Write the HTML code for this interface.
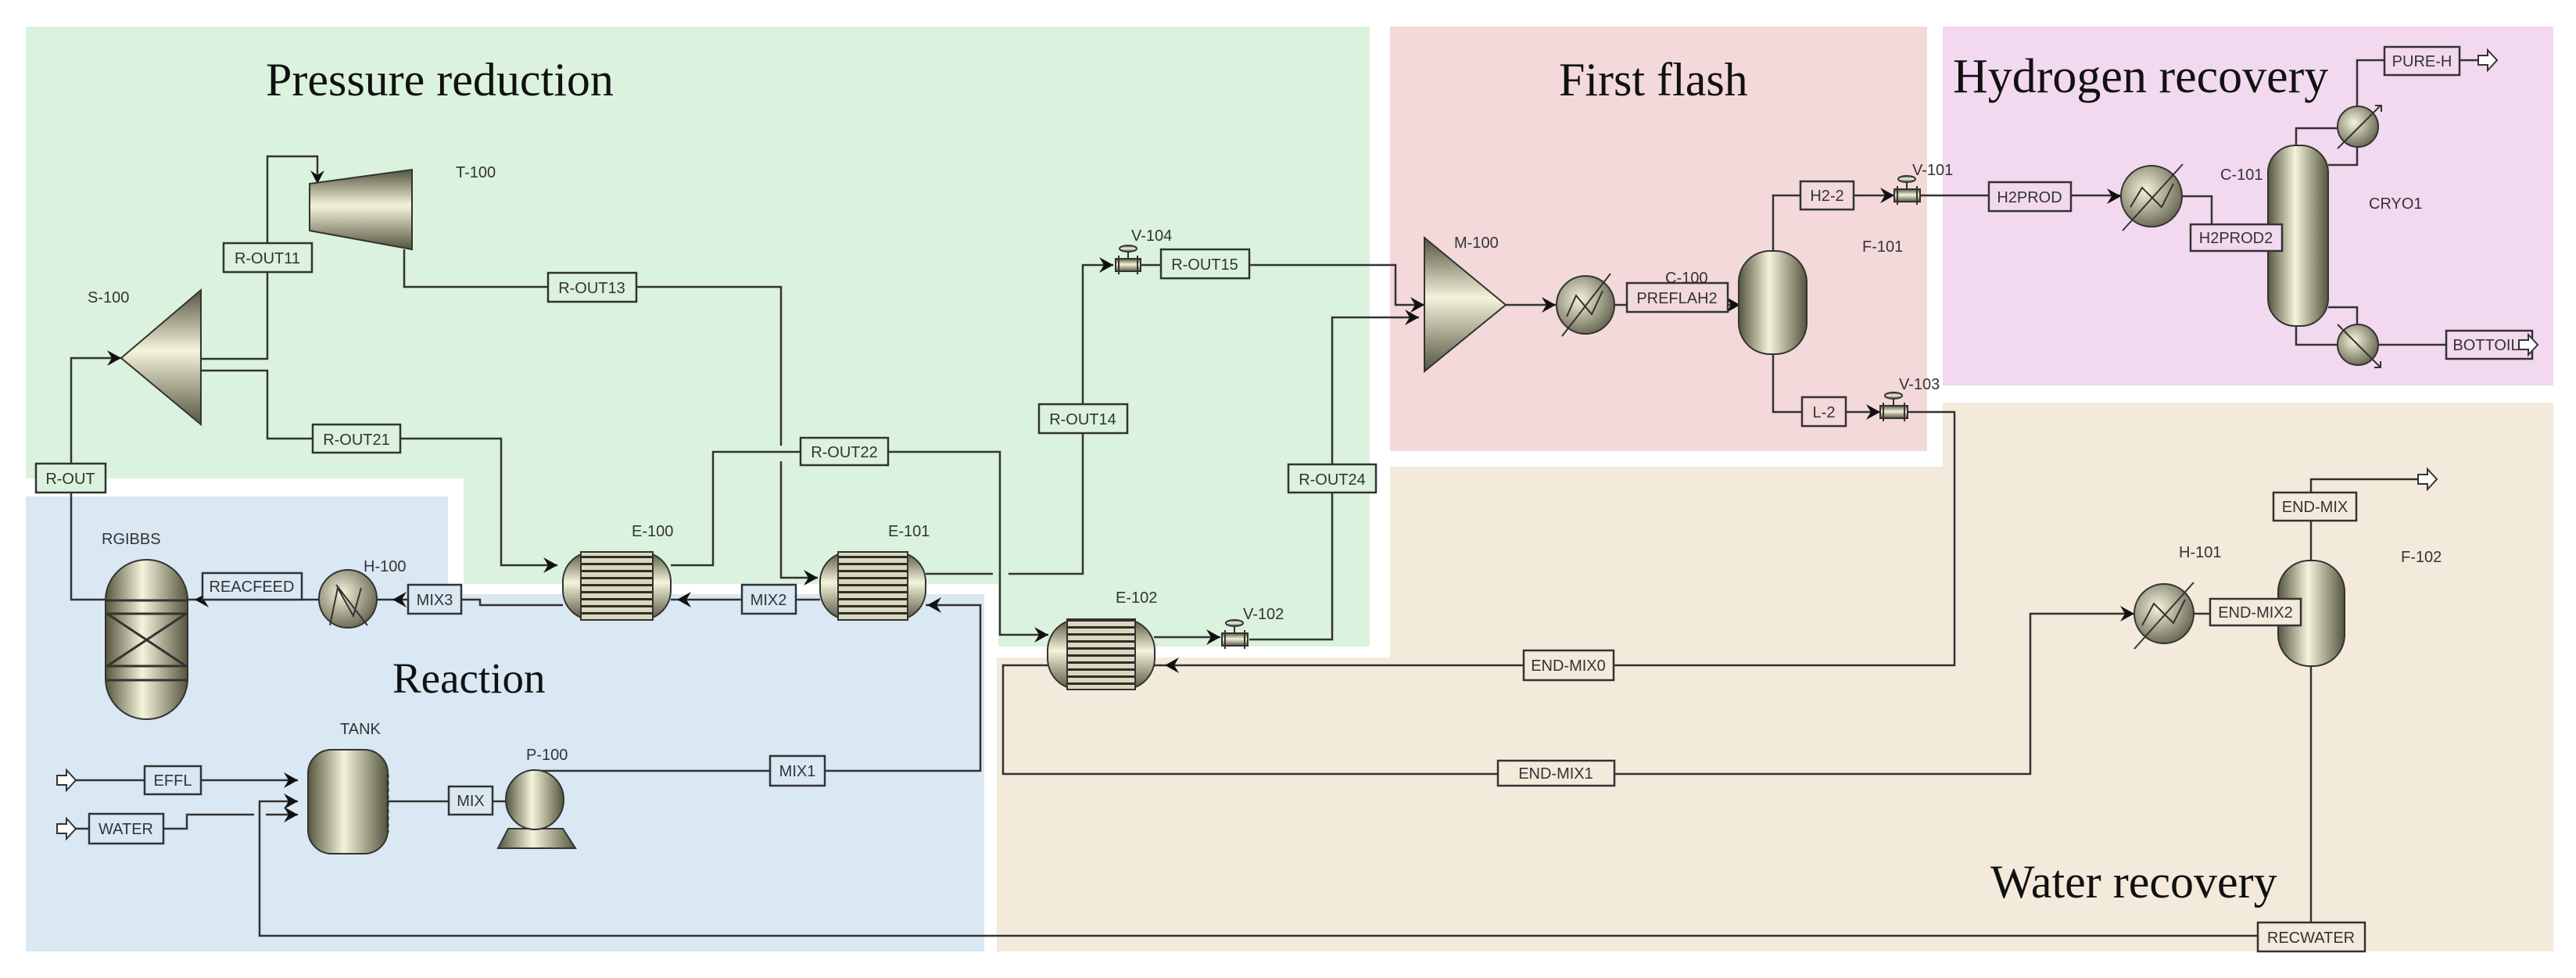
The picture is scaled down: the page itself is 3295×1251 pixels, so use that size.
<!DOCTYPE html>
<html><head><meta charset="utf-8"><style>
html,body{margin:0;padding:0;background:#fff}
svg{display:block}
.t{font-family:"Liberation Sans",sans-serif;font-size:20px;fill:#333}
.b{font-family:"Liberation Sans",sans-serif;font-size:20px;fill:#333;text-anchor:middle}
.h{font-family:"Liberation Serif",serif;fill:#111}
.ln{fill:none;stroke:#333;stroke-width:2.5}
.bx{stroke:#333;stroke-width:2.5}
.ar{fill:#111}
</style></head><body>
<svg width="3295" height="1251" viewBox="0 0 3295 1251" xmlns="http://www.w3.org/2000/svg">
<defs>
<linearGradient id="gh" x1="0" x2="1" y1="0" y2="0"><stop offset="0" stop-color="#55553f"/><stop offset=".45" stop-color="#f4f4dc"/><stop offset="1" stop-color="#55553f"/></linearGradient>
<linearGradient id="gv" x1="0" x2="0" y1="0" y2="1"><stop offset="0" stop-color="#55553f"/><stop offset=".45" stop-color="#f4f4dc"/><stop offset="1" stop-color="#55553f"/></linearGradient>
<radialGradient id="gr" cx=".4" cy=".4" r=".7"><stop offset="0" stop-color="#f4f4dc"/><stop offset="1" stop-color="#5a5a45"/></radialGradient>
<pattern id="st" width="10" height="9" patternUnits="userSpaceOnUse"><rect width="10" height="9" fill="#d8d8c0"/><rect width="10" height="3" fill="#2e2e26"/></pattern>
</defs>
<g fill="#dbf2de">
<rect x="33" y="34" width="1719" height="578"/>
<rect x="593" y="600" width="1159" height="147"/>
<rect x="1277" y="740" width="475" height="87"/>
</g>
<g fill="#d9e8f3">
<rect x="33" y="635" width="540" height="582"/>
<rect x="33" y="760" width="1226" height="457"/>
</g>
<rect x="1778" y="34" width="687" height="543" fill="#f3d9da"/>
<rect x="2485" y="34" width="781" height="459" fill="#f2d9ef"/>
<g fill="#f3eadb">
<rect x="1275" y="841" width="1991" height="376"/>
<rect x="1778" y="597" width="1488" height="250"/>
<rect x="2485" y="515" width="781" height="90"/>
</g>
<text class="h" x="340" y="122" font-size="60">Pressure reduction</text>
<text class="h" x="502" y="886" font-size="55">Reaction</text>
<text class="h" x="1994" y="122" font-size="60">First flash</text>
<text class="h" x="2498" y="118" font-size="62">Hydrogen recovery</text>
<text class="h" x="2546" y="1148" font-size="60">Water recovery</text>

<path class="ln" d="M135 767H91V458H155"/>
<path class="ln" d="M257 459H342V200H406V235"/>
<path class="ln" d="M257 474H342V561H641V723H713"/>
<path class="ln" d="M517 319V367H999V570M999 590V739H1046"/>
<path class="ln" d="M858 723H912V578H1279V812H1341"/>
<path class="ln" d="M1184 734H1270M1290 734H1385V339H1424"/>
<path class="ln" d="M1459 339H1785V390H1822"/>
<path class="ln" d="M1476 815H1561M1598 818H1704V406H1815"/>
<path class="ln" d="M1926 390H1990M2065 390H2224"/>
<path class="ln" d="M2268 321V250H2423M2456 250H2713"/>
<path class="ln" d="M2791 251H2829V287"/>
<path class="ln" d="M2937 186V164H2990M3015 188V211H2978M3015 136V77H3170"/>
<path class="ln" d="M2937 417V441H2990M2978 393H3015V415M3042 441H3225"/>
<path class="ln" d="M2268 453V527H2405M2440 527H2500V851H1476"/>
<path class="ln" d="M1340 851H1283V990H2597V785H2730"/>
<path class="ln" d="M2806 785H2914"/>
<path class="ln" d="M2956 717V613H3093"/>
<path class="ln" d="M2956 852V1197H332V1025H381"/>
<path class="ln" d="M688 986H1254V774H1184"/>
<path class="ln" d="M1049 767H858"/>
<path class="ln" d="M720 774H614V767H482"/>
<path class="ln" d="M408 767H240"/>
<path class="ln" d="M496 1025H680M95 998H381M95 1060H114M209 1060H239V1042H325M340 1042H381"/>

<g class="ar">
<path d="M155 458l-18-10 6 10-6 10z"/>
<path d="M406 235l-9-17 9 6 9-6z"/>
<path d="M713 723l-18-10 6 10-6 10z"/>
<path d="M1046 739l-18-10 6 10-6 10z"/>
<path d="M1341 812l-18-10 6 10-6 10z"/>
<path d="M1424 339l-18-10 6 10-6 10z"/>
<path d="M1822 390l-18-10 6 10-6 10z"/>
<path d="M1815 406l-18-10 6 10-6 10z"/>
<path d="M1561 815l-18-10 6 10-6 10z"/>
<path d="M1990 390l-18-10 6 10-6 10z"/>
<path d="M2226 390l-18-10 6 10-6 10z"/>
<path d="M2423 250l-18-10 6 10-6 10z"/>
<path d="M2713 251l-18-10 6 10-6 10z"/>
<path d="M2405 527l-18-10 6 10-6 10z"/>
<path d="M1490 851l18-10-6 10 6 10z"/>
<path d="M2730 785l-18-10 6 10-6 10z"/>
<path d="M1186 774l18-10-6 10 6 10z"/>
<path d="M866 767l18-10-6 10 6 10z"/>
<path d="M502 767l18-10-6 10 6 10z"/>
<path d="M249 767l18-10-6 10 6 10z"/>
<path d="M381 998l-18-10 6 10-6 10z"/>
<path d="M381 1025l-18-10 6 10-6 10z"/>
<path d="M381 1042l-18-10 6 10-6 10z"/>
</g>

<g stroke="#333" stroke-width="2">
<polygon points="396,235 527,217 527,319 396,295" fill="url(#gv)"/>
<polygon points="155,458 257,371 257,543" fill="url(#gv)"/>
<polygon points="1822,304 1926,390 1822,475" fill="url(#gv)"/>
<rect x="135" y="716" width="105" height="204" rx="52" fill="url(#gh)"/>
<path d="M135 768H240M135 785H240M135 852H240M135 870H240M137 785L238 852M238 785L137 852" fill="none" stroke-width="3"/>
<rect x="720" y="706" width="138" height="87" rx="38" fill="url(#gv)"/>
<rect x="743" y="706" width="92" height="87" fill="url(#st)"/>
<rect x="1049" y="706" width="135" height="87" rx="38" fill="url(#gv)"/>
<rect x="1072" y="706" width="89" height="87" fill="url(#st)"/>
<rect x="1340" y="792" width="137" height="90" rx="40" fill="url(#gv)"/>
<rect x="1365" y="792" width="87" height="90" fill="url(#st)"/>
<rect x="394" y="959" width="102" height="133" rx="30" fill="url(#gh)"/>
<path d="M496 990V1065" stroke-dasharray="5 4" stroke-width="3"/>
<polygon points="650,1060 720,1060 736,1085 637,1085" fill="url(#gh)"/>
<ellipse cx="684" cy="1023" rx="37" ry="38" fill="url(#gh)"/>
<rect x="2224" y="321" width="87" height="132" rx="40" fill="url(#gh)"/>
<rect x="2901" y="186" width="77" height="231" rx="35" fill="url(#gh)"/>
<rect x="2914" y="717" width="85" height="135" rx="40" fill="url(#gh)"/>
<circle cx="445" cy="766" r="37" fill="url(#gr)"/>
<path d="M430 748L470 800M422 800L432 752 452 788 462 752" fill="none"/>
<circle cx="2028" cy="390" r="37" fill="url(#gr)"/>
<path d="M1998 430L2060 350M2004 405L2016 378 2036 402 2050 372" fill="none"/>
<circle cx="2752" cy="251" r="39" fill="url(#gr)"/>
<path d="M2715 295L2792 210M2725 265L2740 240 2765 265 2780 235" fill="none"/>
<circle cx="2768" cy="785" r="38" fill="url(#gr)"/>
<path d="M2730 830L2806 745M2740 800L2755 772 2780 797 2795 767" fill="none"/>
<circle cx="3016" cy="162" r="26" fill="url(#gr)"/>
<path d="M2990 190L3045 135M3038 135h8v8" fill="none"/>
<circle cx="3016" cy="441" r="26" fill="url(#gr)"/>
<path d="M2990 415L3045 470M3045 462v8h-8" fill="none"/>
</g>
<g stroke="#333" stroke-width="2" fill="url(#gv)">
<rect x="1427" y="331" width="32" height="16"/><path d="M1443 331v-10M1431 327v24M1455 327v24" fill="none"/><ellipse cx="1443" cy="318" rx="11" ry="4"/>
<rect x="1563" y="810" width="33" height="16"/><path d="M1579 810v-10M1567 806v24M1592 806v24" fill="none"/><ellipse cx="1579" cy="797" rx="11" ry="4"/>
<rect x="2423" y="242" width="33" height="16"/><path d="M2439 242v-10M2427 238v24M2452 238v24" fill="none"/><ellipse cx="2439" cy="229" rx="11" ry="4"/>
<rect x="2405" y="519" width="35" height="16"/><path d="M2422 519v-10M2409 515v24M2436 515v24" fill="none"/><ellipse cx="2422" cy="506" rx="11" ry="4"/>
</g>

<g fill="#fff" stroke="#333" stroke-width="2">
<path d="M73 992h12v-7l12 13-12 13v-7h-12z"/>
<path d="M73 1054h12v-7l12 13-12 13v-7h-12z"/>
<path d="M3170 71h12v-7l12 13-12 13v-7h-12z"/>
<path d="M3093 607h12v-7l12 13-12 13v-7h-12z"/>
</g>

<g class="bx" fill="#dbf2de">
<rect x="46" y="593" width="89" height="37"/>
<rect x="286" y="311" width="113" height="37"/>
<rect x="400" y="543" width="112" height="36"/>
<rect x="701" y="349" width="113" height="37"/>
<rect x="1024" y="560" width="112" height="35"/>
<rect x="1329" y="517" width="113" height="37"/>
<rect x="1485" y="319" width="113" height="37"/>
<rect x="1648" y="594" width="112" height="36"/>
</g>
<g class="bx" fill="#f3d9da">
<rect x="2081" y="362" width="129" height="37"/>
<rect x="2303" y="232" width="68" height="36"/>
<rect x="2305" y="508" width="56" height="37"/>
</g>
<g class="bx" fill="#f2d9ef">
<rect x="2544" y="233" width="105" height="37"/>
<rect x="2802" y="287" width="117" height="34"/>
<rect x="3050" y="60" width="96" height="36"/>
<rect x="3129" y="423" width="110" height="36"/>
</g>
<g class="bx" fill="#f3eadb">
<rect x="1949" y="832" width="115" height="38"/>
<rect x="1916" y="973" width="149" height="32"/>
<rect x="2827" y="766" width="116" height="34"/>
<rect x="2908" y="630" width="106" height="36"/>
<rect x="2888" y="1180" width="137" height="37"/>
</g>
<g class="bx" fill="#d9e8f3">
<rect x="985" y="967" width="70" height="38"/>
<rect x="949" y="748" width="69" height="37"/>
<rect x="522" y="748" width="68" height="37"/>
<rect x="259" y="733" width="127" height="34"/>
<rect x="574" y="1006" width="56" height="36"/>
<rect x="185" y="980" width="72" height="36"/>
<rect x="114" y="1041" width="95" height="38"/>
</g>
<path d="M3222 435h12v-7l12 13-12 13v-7h-12z" fill="#fff" stroke="#333" stroke-width="2"/>
<g class="b">
<text x="90" y="619">R-OUT</text>
<text x="342" y="337">R-OUT11</text>
<text x="456" y="569">R-OUT21</text>
<text x="757" y="375">R-OUT13</text>
<text x="1080" y="585">R-OUT22</text>
<text x="1385" y="543">R-OUT14</text>
<text x="1541" y="345">R-OUT15</text>
<text x="1704" y="620">R-OUT24</text>
<text x="2145" y="388">PREFLAH2</text>
<text x="2337" y="257">H2-2</text>
<text x="2596" y="259">H2PROD</text>
<text x="2860" y="311">H2PROD2</text>
<text x="3098" y="85">PURE-H</text>
<text x="3180" y="448">BOTTOIL</text>
<text x="2333" y="534">L-2</text>
<text x="2006" y="858">END-MIX0</text>
<text x="1990" y="996">END-MIX1</text>
<text x="2885" y="790">END-MIX2</text>
<text x="2961" y="655">END-MIX</text>
<text x="2956" y="1206">RECWATER</text>
<text x="1020" y="993">MIX1</text>
<text x="983" y="774">MIX2</text>
<text x="556" y="774">MIX3</text>
<text x="322" y="757">REACFEED</text>
<text x="602" y="1031">MIX</text>
<text x="221" y="1005">EFFL</text>
<text x="161" y="1067">WATER</text>
</g>
<g class="t">
<text x="583" y="227">T-100</text>
<text x="112" y="387">S-100</text>
<text x="130" y="696">RGIBBS</text>
<text x="465" y="731">H-100</text>
<text x="808" y="686">E-100</text>
<text x="1136" y="686">E-101</text>
<text x="1427" y="771">E-102</text>
<text x="1590" y="792">V-102</text>
<text x="1447" y="308">V-104</text>
<text x="435" y="939">TANK</text>
<text x="673" y="972">P-100</text>
<text x="1860" y="317">M-100</text>
<text x="2130" y="362">C-100</text>
<text x="2382" y="322">F-101</text>
<text x="2446" y="224">V-101</text>
<text x="2429" y="498">V-103</text>
<text x="2840" y="230">C-101</text>
<text x="3030" y="267">CRYO1</text>
<text x="2787" y="713">H-101</text>
<text x="3071" y="719">F-102</text>
</g>
</svg>
</body></html>
